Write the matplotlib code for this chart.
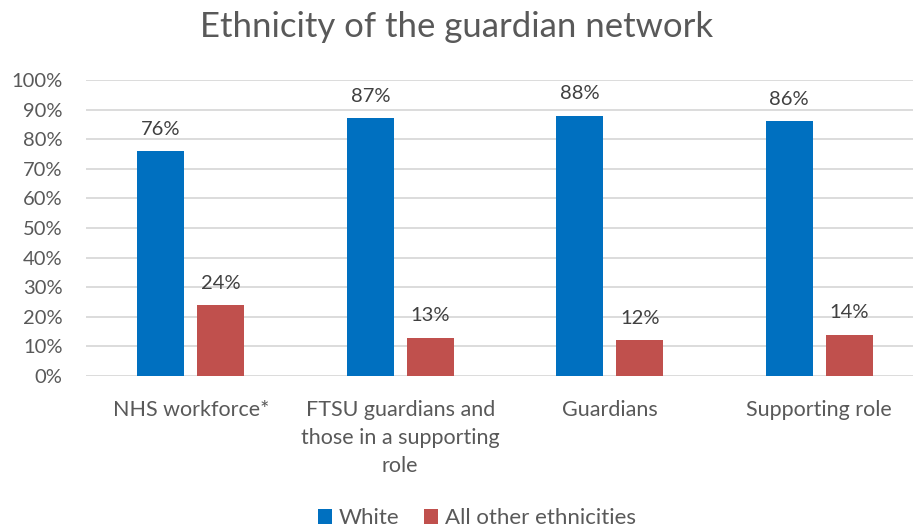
import numpy as np
import matplotlib.pyplot as plt
from matplotlib.ticker import PercentFormatter

plt.rcParams['font.family'] = ['Lato', 'DejaVu Sans']

categories = ['NHS workforce*', 'FTSU guardians and\nthose in a supporting\nrole',
              'Guardians', 'Supporting role']
white = [76, 87, 88, 86]
other = [24, 13, 12, 14]
series_names = ['White', 'All other ethnicities']
colors = ['#0070C0', '#C0504D']
text_grey = '#595959'

fig = plt.figure(figsize=(9.13, 5.28), dpi=100)
ax = fig.add_axes([86 / 913, 1 - 376 / 528, 827 / 913, 296 / 528])

x = np.arange(len(categories))
width = 0.225
offset = 0.143

bars = []
for vals, shift, col, name in zip([white, other], [-offset, offset], colors, series_names):
    b = ax.bar(x + shift, vals, width, color=col, label=name, zorder=3)
    bars.append(b)
    for rect, v in zip(b, vals):
        ax.text(rect.get_x() + rect.get_width() / 2, v + 4.5, f'{v}%',
                ha='center', va='bottom', fontsize=14.5, color='#404040')

ax.set_ylim(0, 100)
ax.set_xlim(-0.5, 3.448)
ax.set_yticks(np.arange(0, 101, 10))
ax.yaxis.set_major_formatter(PercentFormatter(decimals=0))
ax.grid(axis='y', color='#D9D9D9', linewidth=1.3, zorder=0)
for s in ax.spines.values():
    s.set_visible(False)
ax.tick_params(axis='both', length=0, labelsize=14.5, colors=text_grey)
ax.tick_params(axis='y', pad=17)
ax.set_xticks(x)
ax.set_xticklabels(categories, linespacing=1.5, va='top', fontsize=15.5)
ax.tick_params(axis='x', pad=17)

fig.text(0.5, 1 - 27 / 528, 'Ethnicity of the guardian network',
         ha='center', va='center', fontsize=25, color=text_grey)

fig.legend(handles=bars, labels=series_names, loc='center',
           bbox_to_anchor=(477 / 913, 1 - 518 / 528), ncol=2, frameon=False,
           fontsize=16, labelcolor=text_grey, handlelength=0.65, handleheight=0.65,
           handletextpad=0.3, columnspacing=1.1)

fig.savefig('out.png', dpi=100)
